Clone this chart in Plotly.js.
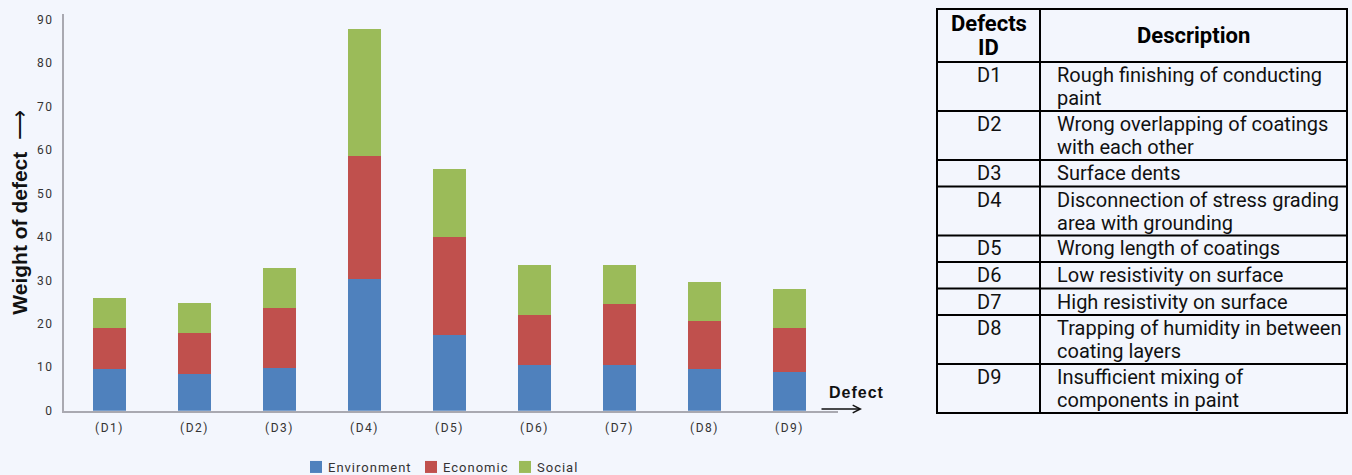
<!DOCTYPE html>
<html>
<head>
<meta charset="utf-8">
<script src="https://cdn.plot.ly/plotly-3.0.1.min.js"></script>
<style>
html,body{margin:0;padding:0;background:#f3f6fd;}
#chart{width:1352px;height:475px;}
.xtick text, .ytick text{letter-spacing:1.5px;}
.legendtext{letter-spacing:1px; transform:translateX(-8px);}
.annotation[data-index="0"] text{letter-spacing:1px;}
</style>
</head>
<body>
<div id="chart"></div>
<script>
const categories = ["(D1)","(D2)","(D3)","(D4)","(D5)","(D6)","(D7)","(D8)","(D9)"];
const environment = [9.6, 8.5, 9.9, 30.3, 17.4, 10.5, 10.5, 9.6, 9.0];
const economic    = [9.4, 9.4, 13.7, 28.3, 22.6, 11.5, 14.1, 11.0, 10.0];
const social      = [6.9, 6.9, 9.3, 29.3, 15.6, 11.5, 8.9, 9.0, 9.0];
const seriesNames = ["Environment","Economic","Social"];
const seriesColors = ["#4f81bd","#c0504d","#9bbb59"];

const tableHeader = ["Defects<br>ID", "Description"];
const defectIds = ["D1","D2","D3","D4","D5","D6","D7","D8","D9"];
const descriptions = [
  "Rough finishing of conducting<br>paint",
  "Wrong overlapping of coatings<br>with each other",
  "Surface dents",
  "Disconnection of stress grading<br>area with grounding",
  "Wrong length of coatings",
  "Low resistivity on surface",
  "High resistivity on surface",
  "Trapping of humidity in between<br>coating layers",
  "Insufficient mixing of<br>components in paint"
];

const W = 1352, H = 475;
const bg = "#f3f6fd";
const font = "Roboto, 'Open Sans', sans-serif";
const boldFont = "'Liberation Sans', Arial, sans-serif";
const px = v => v / W;
const py = v => (H - v) / H;

const legendWidths = [70, 49, 42];
const vals = [environment, economic, social];
const traces = vals.map((v, i) => ({
  type: "bar",
  name: seriesNames[i],
  x: categories,
  y: v,
  marker: {color: seriesColors[i], line: {width: 0}},
  width: 0.39,
  legendwidth: legendWidths[i],
  hoverinfo: "x+y+name"
}));

// ---- table geometry (drawn with shapes + annotations in paper coords)
const tLeft = 937, tMid = 1040, tRight = 1347, tTop = 9;
const headerH = 53, oneLineH = 26.5, twoLineH = 49, lineStep = 23;
const shapes = [];
const annotations = [
  {xref: "paper", yref: "paper", x: px(857), y: py(392), text: "<b>Defect</b>", showarrow: false,
   font: {family: boldFont, size: 16, color: "#111"}, xanchor: "center", yanchor: "middle"},
  {xref: "paper", yref: "paper", x: px(862), y: py(409), ax: -42, ay: 0, text: "", showarrow: true,
   arrowhead: 5, arrowsize: 1, arrowwidth: 1.5, arrowcolor: "#111"}
];
const lineStyle = {color: "#000", width: 2};
const cellText = (x, y, txt, anchor, size, bold) => ({
  xref: "paper", yref: "paper", x: px(x), y: py(y),
  text: bold ? "<b>" + txt + "</b>" : txt, showarrow: false,
  xanchor: anchor, yanchor: "middle", align: anchor,
  font: {family: font, size: size, color: bold ? "#000" : "#111"}
});
// header cells
const colCenters = [(tLeft + tMid) / 2, (tMid + tRight) / 2];
tableHeader.forEach((h, c) => {
  const lines = h.split("<br>");
  const y0 = tTop + headerH / 2 - (lines.length - 1) * lineStep / 2;
  lines.forEach((ln, k) => annotations.push(cellText(colCenters[c], y0 + k * lineStep, ln, "center", 22, true)));
});
let yCur = tTop + headerH;
shapes.push({type: "line", xref: "paper", yref: "paper", x0: px(tLeft), x1: px(tRight), y0: py(yCur), y1: py(yCur), line: lineStyle});
defectIds.forEach((id, i) => {
  const lines = descriptions[i].split("<br>");
  const h = lines.length > 1 ? twoLineH : oneLineH;
  annotations.push(cellText(colCenters[0], yCur + 13, id, "center", 20, false));
  lines.forEach((ln, k) => annotations.push(cellText(tMid + 15, yCur + 13 + k * lineStep, ln, "left", 20, false)));
  yCur += h;
  if (i < defectIds.length - 1) {
    shapes.push({type: "line", xref: "paper", yref: "paper", x0: px(tLeft), x1: px(tRight), y0: py(yCur), y1: py(yCur), line: lineStyle});
  }
});
shapes.push({type: "rect", xref: "paper", yref: "paper", x0: px(tLeft), x1: px(tRight), y0: py(tTop), y1: py(yCur), line: lineStyle, fillcolor: "rgba(0,0,0,0)"});
shapes.push({type: "line", xref: "paper", yref: "paper", x0: px(tMid), x1: px(tMid), y0: py(tTop), y1: py(yCur), line: lineStyle});

const layout = {
  width: W, height: H,
  paper_bgcolor: bg, plot_bgcolor: bg,
  margin: {l: 0, r: 0, t: 0, b: 0, autoexpand: false},
  barmode: "stack",
  showlegend: true,
  font: {family: font, color: "#333"},
  xaxis: {
    domain: [px(64), px(838)],
    range: [-0.535, 8.57],
    type: "category",
    showline: true, linecolor: "#a9a9b1", linewidth: 2,
    showgrid: false, zeroline: false, ticks: "",
    tickfont: {family: font, size: 12, color: "#333"},
    ticklabelstandoff: 5,
    automargin: false, fixedrange: true
  },
  yaxis: {
    domain: [py(410.7), py(14)],
    range: [0, 91.3],
    tickvals: [0,10,20,30,40,50,60,70,80,90],
    showline: true, linecolor: "#a9a9b1", linewidth: 2,
    showgrid: false, zeroline: false, ticks: "",
    tickfont: {family: font, size: 12, color: "#333"},
    ticklabelstandoff: 6,
    title: {text: "<b>Weight of defect</b>  ⟶", font: {family: boldFont, size: 21, color: "#111"}, standoff: 4},
    automargin: false, fixedrange: true
  },
  legend: {
    orientation: "h", xref: "container", yref: "container",
    x: 296 / W, xanchor: "left", y: 8 / H, yanchor: "middle",
    font: {family: font, size: 13, color: "#333"},
    bgcolor: "rgba(0,0,0,0)", traceorder: "normal", itemwidth: 30
  },
  shapes: shapes,
  annotations: annotations
};

Plotly.newPlot("chart", traces, layout, {displayModeBar: false, staticPlot: true});
</script>
</body>
</html>
